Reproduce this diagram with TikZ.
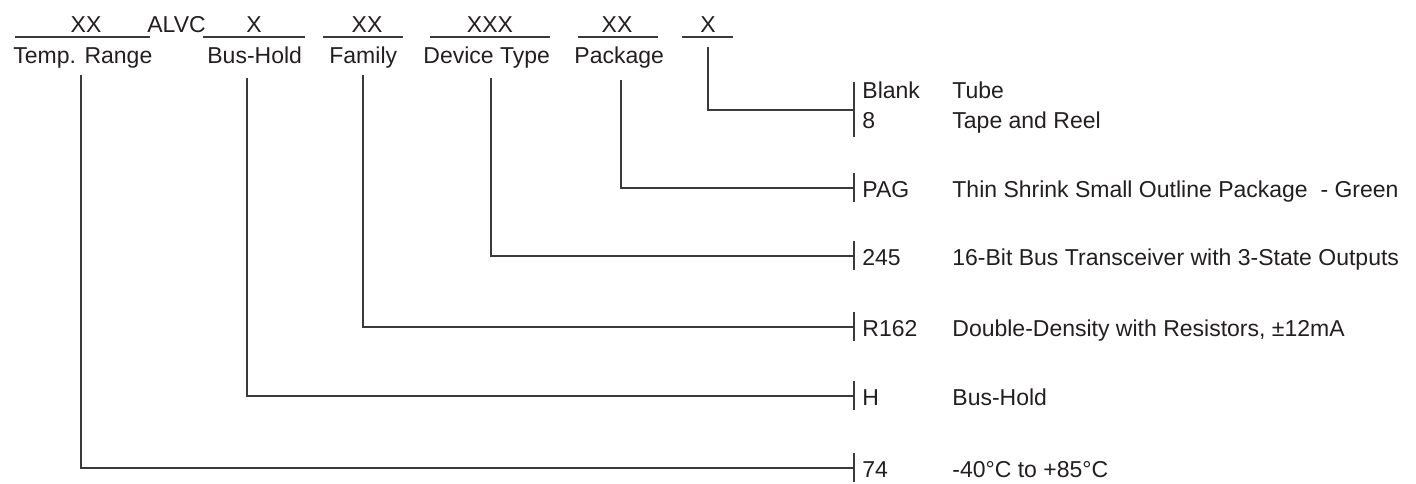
\documentclass[tikz,border=0pt]{standalone}
\usepackage{fontspec}
\setmainfont{Liberation Sans}
\definecolor{ink}{HTML}{231F20}
\definecolor{ln}{HTML}{3A3A3A}
\begin{document}
\begin{tikzpicture}[x=0.5pt,y=-0.5pt,
  txt/.style={inner sep=0pt,font=\fontsize{11.5}{13}\selectfont,text=ink},
  lft/.style={txt,anchor=base west},
  ctr/.style={txt,anchor=base},
  wire/.style={draw=ln,line width=0.55pt},
  uline/.style={draw=ln,line width=0.6pt}]
\useasboundingbox (0,0) rectangle (1416,483);
% top code row
\node[ctr] (c1) at (86,32) {XX};
\node[lft] (c2) at (147,32) {ALVC};
\node[ctr] (c3) at (254,32) {X};
\node[ctr] (c4) at (367,32) {XX};
\node[ctr] (c5) at (490,32) {XXX};
\node[ctr] (c6) at (617,32) {XX};
\node[ctr] (c7) at (708,32) {X};
\draw[uline] (15,37) -- (150,37);
\draw[uline] (203,37) -- (305,37);
\draw[uline] (323,37) -- (403,37);
\draw[uline] (430,37) -- (550,37);
\draw[uline] (578,37) -- (658,37);
\draw[uline] (682,37) -- (733,37);
% field labels
\node[lft] (lTemp) at (13,63) {Temp. Range};
\node[lft] (lBus) at (207,63) {Bus-Hold};
\node[lft] (lFam) at (329,63) {Family};
\node[lft] (lDev) at (423,63) {Device Type};
\node[lft] (lPkg) at (574,63) {Package};
% line tops
\coordinate (tTemp) at (81,75);
\coordinate (tBus) at (247,78);
\coordinate (tFam) at (363,75);
\coordinate (tDev) at (491,78);
\coordinate (tPkg) at (621,80);
\coordinate (tX) at (708,47);
% row ends
\coordinate (rX) at (854,110);
\coordinate (rPkg) at (854,188);
\coordinate (rDev) at (854,256);
\coordinate (rFam) at (854,327);
\coordinate (rBus) at (854,396);
\coordinate (rTemp) at (854,468);
% connectors
\draw[wire] (tX) |- (rX);
\draw[wire] (tPkg) |- (rPkg);
\draw[wire] (tDev) |- (rDev);
\draw[wire] (tFam) |- (rFam);
\draw[wire] (tBus) |- (rBus);
\draw[wire] (tTemp) |- (rTemp);
% ticks
\draw[wire] ([yshift=14pt]rX) -- ([yshift=-13.5pt]rX);
\foreach \r in {rPkg,rDev,rFam,rBus,rTemp}
  \draw[wire] ([yshift=7.5pt]\r) -- ([yshift=-7.2pt]\r);
% codes and descriptions
\node[lft] (kBlank) at (862,98) {Blank};
\node[lft] (k8) at (862,128) {8};
\node[lft] (dTube) at (952,98) {Tube};
\node[lft] (dReel) at (952,128) {Tape and Reel};
\node[lft] (kPAG) at (862,197) {PAG};
\node[lft] (dPAG) at (952,197) {Thin Shrink Small Outline Package\ \ - Green};
\node[lft] (k245) at (862,265.5) {245};
\node[lft] (d245) at (952,265.5) {16-Bit Bus Transceiver with 3-State Outputs};
\node[lft] (kR) at (862,336) {R162};
\node[lft] (dR) at (952,336) {Double-Density with Resistors, ±12mA};
\node[lft] (kH) at (862,405.5) {H};
\node[lft] (dH) at (952,405.5) {Bus-Hold};
\node[lft] (k74) at (862,477.5) {74};
\node[lft] (d74) at (952,477.5) {-40°C to +85°C};
\end{tikzpicture}
\end{document}
